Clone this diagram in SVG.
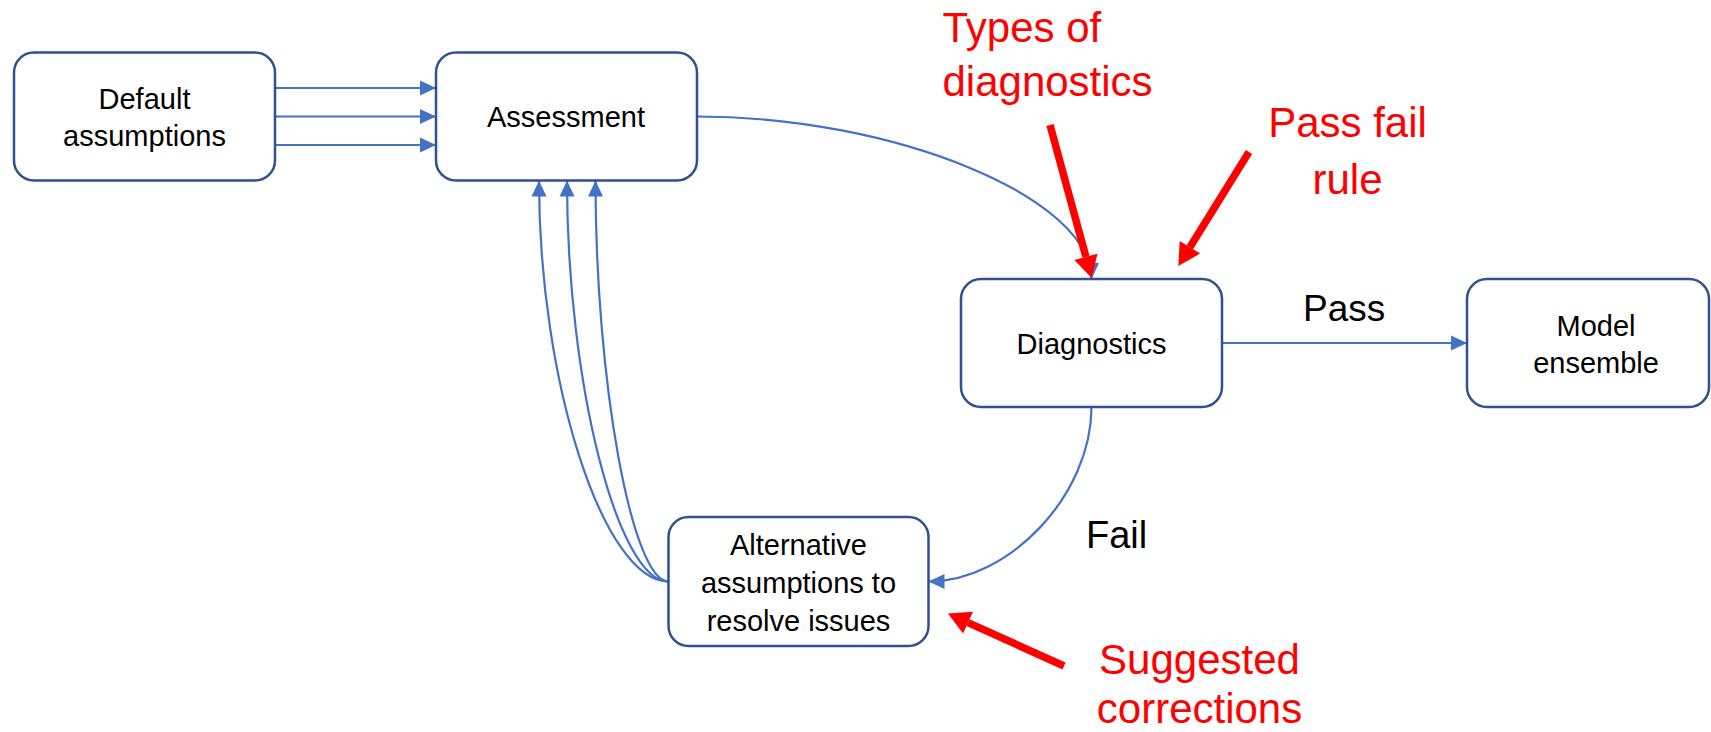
<svg xmlns="http://www.w3.org/2000/svg" width="1711" height="732" viewBox="0 0 1711 732">
  <style>
    .node rect { fill: #ffffff; stroke: #2F528F; stroke-width: 2.5; }
    .node text { font-family: "Liberation Sans", Arial, sans-serif; font-size: 29px; fill: #000000; text-anchor: middle; }
    .conn { fill: none; stroke: #4472C4; stroke-width: 2.2; marker-end: url(#blueHead); }
    .label { font-family: "Liberation Sans", Arial, sans-serif; fill: #000000; }
    .note { font-family: "Liberation Sans", Arial, sans-serif; fill: #FF0000; font-size: 42px; }
    .pointer { fill: none; stroke: #FF0000; stroke-width: 7.5; marker-end: url(#redHead); }
  </style>
  <defs>
    <marker id="blueHead" markerUnits="userSpaceOnUse" markerWidth="16" markerHeight="15" refX="16" refY="7.5" orient="auto" overflow="visible">
      <path d="M0,0 L16,7.5 L0,15 z" fill="#4472C4"/>
    </marker>
    <marker id="redHead" markerUnits="userSpaceOnUse" markerWidth="22" markerHeight="24" refX="0" refY="12" orient="auto" overflow="visible">
      <path d="M0,0 L22,12 L0,24 z" fill="#FF0000"/>
    </marker>
  </defs>

  <rect width="1711" height="732" fill="#ffffff"/>

  <!-- connectors -->
  <g id="connectors">
    <path class="conn" d="M275,88 H436"/>
    <path class="conn" d="M275,116.5 H436"/>
    <path class="conn" d="M275,145 H436"/>
    <path class="conn" d="M697,116.5 C894,116.5 1091.5,197.5 1091.5,279"/>
    <path class="conn" d="M1222,343 H1467"/>
    <path class="conn" d="M1091.5,407 C1091.5,494 1010,581.5 928.5,581.5"/>
    <path class="conn" d="M668.5,581.5 C603.5,581.5 539,382 539,180.5"/>
    <path class="conn" d="M668.5,581.5 C617.5,581.5 567,382 567,180.5"/>
    <path class="conn" d="M668.5,581.5 C632,581.5 595.5,382 595.5,180.5"/>
  </g>

  <!-- nodes -->
  <g id="default-assumptions" class="node">
    <rect x="14" y="52.5" width="261" height="128" rx="20"/>
    <text x="144.5" y="109">Default</text>
    <text x="144.5" y="146">assumptions</text>
  </g>
  <g id="assessment" class="node">
    <rect x="436" y="52.5" width="261" height="128" rx="20"/>
    <text x="566" y="127">Assessment</text>
  </g>
  <g id="diagnostics" class="node">
    <rect x="961" y="279" width="261" height="128" rx="20"/>
    <text x="1091.5" y="354">Diagnostics</text>
  </g>
  <g id="model-ensemble" class="node">
    <rect x="1467" y="279" width="242" height="128" rx="20"/>
    <text x="1596" y="336">Model</text>
    <text x="1596" y="373">ensemble</text>
  </g>
  <g id="alternative-assumptions" class="node">
    <rect x="668.5" y="517" width="260" height="129" rx="20"/>
    <text x="798.5" y="554.5">Alternative</text>
    <text x="798.5" y="592.5">assumptions to</text>
    <text x="798.5" y="631">resolve issues</text>
  </g>

  <!-- edge labels -->
  <g id="edge-labels">
    <text class="label" x="1303" y="321" font-size="37">Pass</text>
    <text class="label" x="1086" y="548" font-size="38">Fail</text>
  </g>

  <!-- annotations -->
  <g id="annotations">
    <text class="note" x="942.5" y="42">Types of</text>
    <text class="note" x="942.5" y="96">diagnostics</text>
    <text class="note" x="1347.5" y="137" font-size="40" text-anchor="middle">Pass fail</text>
    <text class="note" x="1347.5" y="194" font-size="40" text-anchor="middle">rule</text>
    <text class="note" x="1199.5" y="674" text-anchor="middle">Suggested</text>
    <text class="note" x="1199.5" y="723" text-anchor="middle">corrections</text>
    <path class="pointer" d="M1050,125 L1085.9,256.8"/>
    <path class="pointer" d="M1249,152 L1189.9,247.3"/>
    <path class="pointer" d="M1064,666 L968,622.6"/>
  </g>
</svg>
